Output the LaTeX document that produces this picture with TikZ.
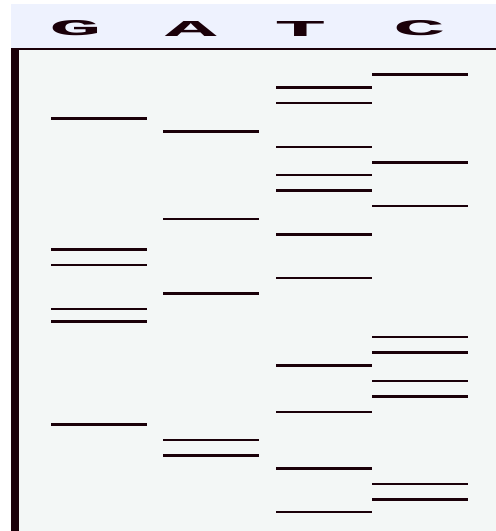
\documentclass[tikz,border=0pt]{standalone}
\usepackage{fontspec}
\newfontfamily\gelfont{Liberation Mono}
\usepackage{tikz}
\definecolor{gelink}{HTML}{1A0009}
\definecolor{gelbg}{HTML}{F3F7F6}
\definecolor{headbg}{HTML}{EEF2FE}
\newcommand{\lanelabel}[1]{\resizebox{52pt}{15pt}{\gelfont\bfseries #1}}

\begin{document}
\begin{tikzpicture}[
  x=1pt,y=-1pt,
  base/.style={text=gelink,inner sep=0pt},
  strong/.style={draw=gelink,line width=3pt},
  weak/.style={draw=gelink,line width=2pt},
]
  \useasboundingbox (0,0) rectangle (496,531);
  % ---------------- frame ----------------
  \fill[headbg] (11,4) rectangle (496,48);
  \fill[gelbg] (19,50) rectangle (496,531);
  \fill[gelink] (11,48) rectangle (496,50);
  \fill[gelink] (11,48) rectangle (19,531);
  % ---------------- labels ----------------
  \node[base] (labG) at (75.5,28.5)  {\lanelabel{G}};
  \node[base] (labA) at (191,28.5)   {\lanelabel{A}};
  \node[base] (labT) at (300.5,28.5) {\lanelabel{T}};
  \node[base] (labC) at (419.5,28.5) {\lanelabel{C}};
  % ---------------- G ----------------
  \begin{scope}[xshift=51]
    \foreach \y in {118.5,249.5,321.5,424.5} \draw[strong] (0,\y) -- (96,\y);
    \foreach \y in {265,309} \draw[weak] (0,\y) -- (96,\y);
  \end{scope}
  % ---------------- A ----------------
  \begin{scope}[xshift=163]
    \foreach \y in {131.5,293.5,455.5} \draw[strong] (0,\y) -- (96,\y);
    \foreach \y in {219,440} \draw[weak] (0,\y) -- (96,\y);
  \end{scope}
  % ---------------- T ----------------
  \begin{scope}[xshift=276]
    \foreach \y in {87.5,190.5,234.5,365.5,468.5} \draw[strong] (0,\y) -- (96,\y);
    \foreach \y in {103,147,175,278,412,512} \draw[weak] (0,\y) -- (96,\y);
  \end{scope}
  % ---------------- C ----------------
  \begin{scope}[xshift=372]
    \foreach \y in {74.5,162.5,352.5,396.5,499.5} \draw[strong] (0,\y) -- (96,\y);
    \foreach \y in {206,337,381,484} \draw[weak] (0,\y) -- (96,\y);
  \end{scope}
\end{tikzpicture}
\end{document}
